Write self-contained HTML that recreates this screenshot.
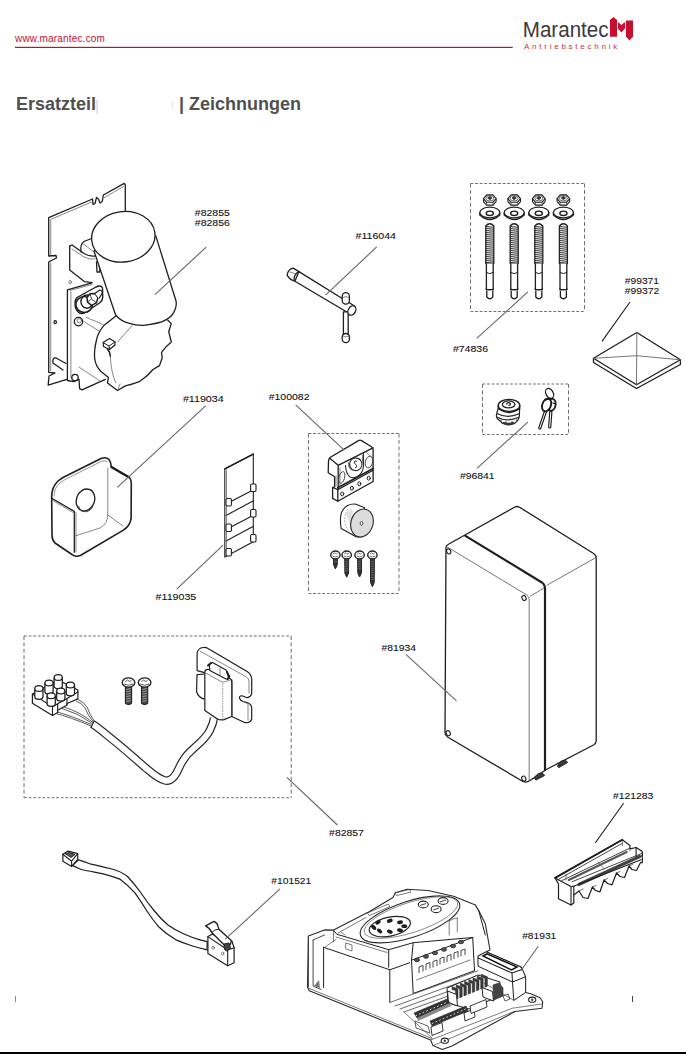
<!DOCTYPE html>
<html><head><meta charset="utf-8">
<style>
html,body{margin:0;padding:0;background:#fff;width:686px;height:1054px;overflow:hidden}
svg{position:absolute;left:0;top:0;display:block}
text{font-family:"Liberation Sans",sans-serif}
.lb{font-size:9.9px;fill:#101018;letter-spacing:0px;stroke:#101018;stroke-width:0.1px}
.o{fill:none;stroke:#1e1e1e;stroke-width:1.3;stroke-linejoin:round;stroke-linecap:round}
.t{fill:none;stroke:#555;stroke-width:0.7;stroke-linejoin:round;stroke-linecap:round}
.w{fill:#fff;stroke:#1e1e1e;stroke-width:1.3;stroke-linejoin:round}
.ld{fill:none;stroke:#666;stroke-width:1.1}
.lk{fill:none;stroke:#1a1a1a;stroke-width:1.1}
.dh{fill:none;stroke:#707070;stroke-width:1;stroke-dasharray:2.8 1.8}
.dv{fill:none;stroke:#707070;stroke-width:1;stroke-dasharray:4 2.4}
</style></head><body>
<svg width="686" height="1054" viewBox="0 0 686 1054">
<!-- HEADER -->
<text x="15" y="42.2" font-size="10" fill="#c4122f" letter-spacing="0.18">www.marantec.com</text>
<rect x="15" y="46.8" width="497.7" height="1.2" fill="#b8142e"/>
<text transform="translate(522.8 36.6) scale(0.935 1)" font-size="22" fill="#3a3a3a">Marantec</text>
<text x="524" y="49" font-size="8" fill="#c43040" letter-spacing="2.75">Antriebstechnik</text>
<g fill="#c5102e">
<path d="M610 20.1 L613.4 17.1 L617.1 20.1 L617.1 36.7 L610 36.7 Z"/>
<path d="M618 21.9 L621.3 25 L625 21.9 L625 28.6 L621.3 32.4 L618 28.6 Z"/>
<path d="M625.9 20.4 L633 20.4 L633 36.4 L629.5 40.5 L625.9 36.4 Z"/>
</g>
<text x="16" y="109.5" font-size="18" font-weight="bold" fill="#505050">Ersatzteil</text>
<rect x="96.6" y="100" width="1" height="13.6" fill="#d8c4b4"/>
<rect x="172.3" y="100.9" width="0.9" height="8" fill="#d4dcf4"/>
<text x="179" y="109.5" font-size="18" font-weight="bold" fill="#505050">| Zeichnungen</text>

<!-- DRAWINGS -->
<g id="drawings">
<g id="motor">
<!-- back plate -->
<path class="o" d="M125.3 211 L125.3 184.8 L124.2 183.4 L103.4 195 L102.2 201.5 L100 203 L98.5 199 L96.5 197.5 L95 203.5 L93 204.5 L92.5 199 L48.7 217.6 L48.7 256 L56 255.5 L56.5 258 L50.5 261 L48.7 262 L48.7 372.3 L55 373 L49 376 L48.2 385.1 L66.8 379.3"/>
<path class="t" d="M50.7 220 L50.7 255 M50.7 263 L50.7 371 M51 219.3 L92 201.8 M104 197.8 L123.5 186.5"/>
<!-- upper bracket -->
<path class="o" d="M69.7 246.1 L69.7 270 L84.3 281.6 L91.9 282.6"/>
<path class="o" d="M69.7 246.1 L72 245 L84 253.5 Q90 257 95.5 255.8"/>
<path class="t" d="M72 249 L84 257 Q90 260 95 259"/>
<path class="o" d="M81 252 Q80 244 84 241.5 L91.5 238.5"/>
<path class="t" d="M83.5 244 L94 252"/>
<path class="o" d="M96.5 262 L97 272 L100 272 L99 262"/>
<!-- lower plate -->
<path class="o" d="M67.4 289.8 L91.9 282.8 M67.4 289.8 L67.4 380.5 L73.8 381.6 L79 379.3 L79.6 388.6 L82 389.8 L105.3 379.3"/>
<path class="t" d="M70.9 292 L70.9 378 M70 290.5 L92 284.5"/>
<ellipse class="t" cx="70.1" cy="282.2" rx="1.2" ry="1.8"/>
<ellipse class="o" cx="55.2" cy="322.2" rx="1.2" ry="1.5"/>
<!-- nut plate -->
<path class="w" d="M76 309 Q73.5 302 77 297.5 L96 287 Q101 284.5 102.5 288 L102.7 297.5 Q102.5 301 99.5 303 L85 312.5 Q79 315.5 76 309 Z" style="stroke-width:1.4"/>
<ellipse cx="84.2" cy="304.5" rx="8.3" ry="8" fill="#fff" stroke="#1e1e1e" stroke-width="1.5"/>
<ellipse cx="86.9" cy="301.6" rx="6" ry="6.6" fill="none" stroke="#1e1e1e" stroke-width="1.4"/>
<path d="M87 297.5 L90 293.8 L95 293.5 L98 297.5 L96.5 302.8 L91.5 305.3 L87.5 302 Z" fill="#fff" stroke="#1e1e1e" stroke-width="1.5"/>
<path d="M90 293.8 L91.5 299 L96.5 302.8 M91.5 299 L87.5 302" fill="none" stroke="#333" stroke-width="0.9"/>
<path d="M95 293.5 L99.5 290 Q102 290 102.3 293 L99 298.5" fill="#fff" stroke="#1e1e1e" stroke-width="1.2"/>
<!-- small bolt -->
<circle class="o" cx="78.5" cy="321.6" r="4.2"/>
<circle class="t" cx="79.3" cy="320.8" r="2.2"/>
<path class="t" d="M86.6 317.5 L103 324.5 M84.5 322 L99 331"/>
<!-- pin near bottom -->
<path class="o" d="M66 363.5 L56 358 Q52 357.5 53 363 L63 370"/>
<circle class="o" cx="75" cy="377.5" r="3.2"/>
<path class="t" d="M79 367 L100 381"/>
<!-- gearbox -->
<path class="w" d="M116.2 315.7 L104.4 324.9 Q98 332 96.5 340 Q94 350 94.6 358 Q95.5 366 101 371.5 L108.4 377.4 L107.5 383 L117.5 390.5 L125.4 385.9 Q133 384 139.9 381.3 Q148 376 153 369.5 L159.5 365.6 L162.2 357.7 L161.5 352.5 Q166 346 171.3 342 L168.7 331.5 L171.3 323.6 L167.4 319.7"/>
<path class="t" d="M132 325.6 L117.6 342 M110.3 356.4 Q111 372 115.6 382.7 M120 384 L117.5 390.5"/>
<path class="w" d="M103.1 342.5 L109.5 338.5 L115 342 L115 345 L109.5 349.5 L103.5 346.5 Z" style="stroke-width:1.2"/>
<path class="o" d="M103.1 342.5 L109 346 L115 342 M109 346 L109.5 349.5" style="stroke-width:1"/>
<path class="o" d="M107.5 349 Q110 352 110.3 356" style="stroke-width:1.6"/>
<!-- cylinder -->
<path class="w" d="M94 251 L115.6 315 Q122 322 128.7 323.1 Q136 325.5 143.3 325.3 Q155 324 162.3 321.6 Q170 318 172.5 314.3 Q177 308 176.1 301.2 L155.7 235.6 Z"/>
<ellipse class="w" cx="123.3" cy="236.8" rx="31.8" ry="25.2" transform="rotate(-8 123.3 236.8)"/>
</g>

<g id="wrench">
<path class="w" d="M298.9 271.6 L342.2 298.5 L349.4 302.8 L354.8 306.2 L348.5 313 L294.9 281.2 Z"/>
<path class="o" d="M298.9 271.6 L293.2 268.1 Q288 269 287.1 275.1 Q290 280 294.9 281.2"/>
<path class="o" d="M298.9 271.6 Q294 274 294.1 279.5"/>
<path class="t" d="M290 272 L296 274"/>
<rect class="w" x="343.4" y="311.9" width="4.8" height="23" />
<rect class="w" x="342.2" y="292.6" width="7.2" height="11.6" rx="3.6" ry="3.6"/>
<path class="t" d="M342.6 297.5 Q345.8 295.5 349 297.5"/>
<ellipse class="w" cx="351.9" cy="310.5" rx="3.6" ry="5" transform="rotate(30 351.9 310.5)"/>
<rect class="w" x="342.2" y="333.5" width="7.2" height="9.1" rx="3.6" ry="3.6"/>
<path class="t" d="M342.6 336 Q345.8 338 349 336"/>
</g>

<g id="bolts">
<path class="w" d="M483.5 198.6 L483.5 201.6 L486.6 205.1 L493.0 205.1 L496.1 201.6 L496.1 198.6 Z" style="stroke-width:1.1"/>
<path class="t" d="M486.6 202.4 L486.6 205.1 M493.0 202.4 L493.0 205.1" style="stroke:#444"/>
<path class="w" d="M496.1 198.6 L492.9 202.3 L486.7 202.3 L483.5 198.6 L486.7 194.9 L492.9 194.9 Z" style="stroke-width:1.1"/>
<ellipse cx="489.8" cy="198.29999999999998" rx="4" ry="2.7" fill="none" stroke="#444" stroke-width="0.8"/>
<path d="M487.6 198.0 L489.8 196.2 L492.0 198.0 L489.8 199.79999999999998 Z" fill="#333" stroke="#222" stroke-width="0.7"/>
<path class="w" d="M479.8 212.5 L479.8 215 Q489.8 224 499.8 215 L499.8 212.5"/>
<ellipse class="w" cx="489.8" cy="212.5" rx="10" ry="5.3"/>
<ellipse class="o" cx="489.8" cy="213.3" rx="3.6" ry="2.2" style="stroke-width:1.4"/>
<path class="w" d="M485.8 263.5 L485.8 226 Q489.8 221.5 493.8 226 L493.8 263.5 Z"/>
<path d="M485.8 226.5 L493.8 227.3 M485.8 228.5 L493.8 229.3 M485.8 230.5 L493.8 231.3 M485.8 232.5 L493.8 233.3 M485.8 234.5 L493.8 235.3 M485.8 236.5 L493.8 237.3 M485.8 238.5 L493.8 239.3 M485.8 240.5 L493.8 241.3 M485.8 242.5 L493.8 243.3 M485.8 244.5 L493.8 245.3 M485.8 246.5 L493.8 247.3 M485.8 248.5 L493.8 249.3 M485.8 250.5 L493.8 251.3 M485.8 252.5 L493.8 253.3 M485.8 254.5 L493.8 255.3 M485.8 256.5 L493.8 257.3 M485.8 258.5 L493.8 259.3 M485.8 260.5 L493.8 261.3 M485.8 262.5 L493.8 263.3" stroke="#2a2a2a" stroke-width="1" fill="none"/>
<path class="w" d="M486.40000000000003 263.5 L486.40000000000003 289.7 L493.2 289.7 L493.2 263.5"/>
<path class="o" d="M486.40000000000003 272.5 Q489.8 275 493.2 272.5" style="stroke-width:1"/>
<path class="o" d="M486.1 289 Q489.8 291.5 493.5 289"/>
<path class="w" d="M486.8 290.5 L486.8 297 Q489.8 300.5 492.8 297 L492.8 290.5"/>
<path class="w" d="M507.90000000000003 198.6 L507.90000000000003 201.6 L511.00000000000006 205.1 L517.4000000000001 205.1 L520.5 201.6 L520.5 198.6 Z" style="stroke-width:1.1"/>
<path class="t" d="M511.00000000000006 202.4 L511.00000000000006 205.1 M517.4000000000001 202.4 L517.4000000000001 205.1" style="stroke:#444"/>
<path class="w" d="M520.5 198.6 L517.4 202.3 L511.1 202.3 L507.9 198.6 L511.1 194.9 L517.4 194.9 Z" style="stroke-width:1.1"/>
<ellipse cx="514.2" cy="198.29999999999998" rx="4" ry="2.7" fill="none" stroke="#444" stroke-width="0.8"/>
<path d="M512.0 198.0 L514.2 196.2 L516.4000000000001 198.0 L514.2 199.79999999999998 Z" fill="#333" stroke="#222" stroke-width="0.7"/>
<path class="w" d="M504.20000000000005 212.5 L504.20000000000005 215 Q514.2 224 524.2 215 L524.2 212.5"/>
<ellipse class="w" cx="514.2" cy="212.5" rx="10" ry="5.3"/>
<ellipse class="o" cx="514.2" cy="213.3" rx="3.6" ry="2.2" style="stroke-width:1.4"/>
<path class="w" d="M510.20000000000005 263.5 L510.20000000000005 226 Q514.2 221.5 518.2 226 L518.2 263.5 Z"/>
<path d="M510.20000000000005 226.5 L518.2 227.3 M510.20000000000005 228.5 L518.2 229.3 M510.20000000000005 230.5 L518.2 231.3 M510.20000000000005 232.5 L518.2 233.3 M510.20000000000005 234.5 L518.2 235.3 M510.20000000000005 236.5 L518.2 237.3 M510.20000000000005 238.5 L518.2 239.3 M510.20000000000005 240.5 L518.2 241.3 M510.20000000000005 242.5 L518.2 243.3 M510.20000000000005 244.5 L518.2 245.3 M510.20000000000005 246.5 L518.2 247.3 M510.20000000000005 248.5 L518.2 249.3 M510.20000000000005 250.5 L518.2 251.3 M510.20000000000005 252.5 L518.2 253.3 M510.20000000000005 254.5 L518.2 255.3 M510.20000000000005 256.5 L518.2 257.3 M510.20000000000005 258.5 L518.2 259.3 M510.20000000000005 260.5 L518.2 261.3 M510.20000000000005 262.5 L518.2 263.3" stroke="#2a2a2a" stroke-width="1" fill="none"/>
<path class="w" d="M510.80000000000007 263.5 L510.80000000000007 289.7 L517.6 289.7 L517.6 263.5"/>
<path class="o" d="M510.80000000000007 272.5 Q514.2 275 517.6 272.5" style="stroke-width:1"/>
<path class="o" d="M510.50000000000006 289 Q514.2 291.5 517.9000000000001 289"/>
<path class="w" d="M511.20000000000005 290.5 L511.20000000000005 297 Q514.2 300.5 517.2 297 L517.2 290.5"/>
<path class="w" d="M532.5 198.6 L532.5 201.6 L535.5999999999999 205.1 L542.0 205.1 L545.0999999999999 201.6 L545.0999999999999 198.6 Z" style="stroke-width:1.1"/>
<path class="t" d="M535.5999999999999 202.4 L535.5999999999999 205.1 M542.0 202.4 L542.0 205.1" style="stroke:#444"/>
<path class="w" d="M545.1 198.6 L541.9 202.3 L535.6 202.3 L532.5 198.6 L535.6 194.9 L541.9 194.9 Z" style="stroke-width:1.1"/>
<ellipse cx="538.8" cy="198.29999999999998" rx="4" ry="2.7" fill="none" stroke="#444" stroke-width="0.8"/>
<path d="M536.5999999999999 198.0 L538.8 196.2 L541.0 198.0 L538.8 199.79999999999998 Z" fill="#333" stroke="#222" stroke-width="0.7"/>
<path class="w" d="M528.8 212.5 L528.8 215 Q538.8 224 548.8 215 L548.8 212.5"/>
<ellipse class="w" cx="538.8" cy="212.5" rx="10" ry="5.3"/>
<ellipse class="o" cx="538.8" cy="213.3" rx="3.6" ry="2.2" style="stroke-width:1.4"/>
<path class="w" d="M534.8 263.5 L534.8 226 Q538.8 221.5 542.8 226 L542.8 263.5 Z"/>
<path d="M534.8 226.5 L542.8 227.3 M534.8 228.5 L542.8 229.3 M534.8 230.5 L542.8 231.3 M534.8 232.5 L542.8 233.3 M534.8 234.5 L542.8 235.3 M534.8 236.5 L542.8 237.3 M534.8 238.5 L542.8 239.3 M534.8 240.5 L542.8 241.3 M534.8 242.5 L542.8 243.3 M534.8 244.5 L542.8 245.3 M534.8 246.5 L542.8 247.3 M534.8 248.5 L542.8 249.3 M534.8 250.5 L542.8 251.3 M534.8 252.5 L542.8 253.3 M534.8 254.5 L542.8 255.3 M534.8 256.5 L542.8 257.3 M534.8 258.5 L542.8 259.3 M534.8 260.5 L542.8 261.3 M534.8 262.5 L542.8 263.3" stroke="#2a2a2a" stroke-width="1" fill="none"/>
<path class="w" d="M535.4 263.5 L535.4 289.7 L542.1999999999999 289.7 L542.1999999999999 263.5"/>
<path class="o" d="M535.4 272.5 Q538.8 275 542.1999999999999 272.5" style="stroke-width:1"/>
<path class="o" d="M535.0999999999999 289 Q538.8 291.5 542.5 289"/>
<path class="w" d="M535.8 290.5 L535.8 297 Q538.8 300.5 541.8 297 L541.8 290.5"/>
<path class="w" d="M557.1 198.6 L557.1 201.6 L560.1999999999999 205.1 L566.6 205.1 L569.6999999999999 201.6 L569.6999999999999 198.6 Z" style="stroke-width:1.1"/>
<path class="t" d="M560.1999999999999 202.4 L560.1999999999999 205.1 M566.6 202.4 L566.6 205.1" style="stroke:#444"/>
<path class="w" d="M569.7 198.6 L566.5 202.3 L560.2 202.3 L557.1 198.6 L560.2 194.9 L566.5 194.9 Z" style="stroke-width:1.1"/>
<ellipse cx="563.4" cy="198.29999999999998" rx="4" ry="2.7" fill="none" stroke="#444" stroke-width="0.8"/>
<path d="M561.1999999999999 198.0 L563.4 196.2 L565.6 198.0 L563.4 199.79999999999998 Z" fill="#333" stroke="#222" stroke-width="0.7"/>
<path class="w" d="M553.4 212.5 L553.4 215 Q563.4 224 573.4 215 L573.4 212.5"/>
<ellipse class="w" cx="563.4" cy="212.5" rx="10" ry="5.3"/>
<ellipse class="o" cx="563.4" cy="213.3" rx="3.6" ry="2.2" style="stroke-width:1.4"/>
<path class="w" d="M559.4 263.5 L559.4 226 Q563.4 221.5 567.4 226 L567.4 263.5 Z"/>
<path d="M559.4 226.5 L567.4 227.3 M559.4 228.5 L567.4 229.3 M559.4 230.5 L567.4 231.3 M559.4 232.5 L567.4 233.3 M559.4 234.5 L567.4 235.3 M559.4 236.5 L567.4 237.3 M559.4 238.5 L567.4 239.3 M559.4 240.5 L567.4 241.3 M559.4 242.5 L567.4 243.3 M559.4 244.5 L567.4 245.3 M559.4 246.5 L567.4 247.3 M559.4 248.5 L567.4 249.3 M559.4 250.5 L567.4 251.3 M559.4 252.5 L567.4 253.3 M559.4 254.5 L567.4 255.3 M559.4 256.5 L567.4 257.3 M559.4 258.5 L567.4 259.3 M559.4 260.5 L567.4 261.3 M559.4 262.5 L567.4 263.3" stroke="#2a2a2a" stroke-width="1" fill="none"/>
<path class="w" d="M560.0 263.5 L560.0 289.7 L566.8 289.7 L566.8 263.5"/>
<path class="o" d="M560.0 272.5 Q563.4 275 566.8 272.5" style="stroke-width:1"/>
<path class="o" d="M559.6999999999999 289 Q563.4 291.5 567.1 289"/>
<path class="w" d="M560.4 290.5 L560.4 297 Q563.4 300.5 566.4 297 L566.4 290.5"/>
</g>
<g id="pyramid">
<path class="w" d="M593.5 358.3 L593.5 362.5 L636.5 388.5 L680.4 364.5 L680.4 359.8"/>
<path class="w" d="M593.5 358.3 L636.8 332.5 L680.4 359.8 L636.5 384.8 Z"/>
<path class="t" d="M636.8 332.5 L636.5 384.8 M593.5 358.3 L636.6 355.7 L680.4 359.8" style="stroke:#666;stroke-width:0.9"/>
</g>

<g id="lock">
<path class="w" d="M498.5 408 L497.2 411.5 L496.3 416 Q496.5 418.5 499.5 420.5 L502.5 423.3 Q508.5 426.3 514.5 423.5 L517.6 420.6 Q519.6 418 519.4 414.5 L519.6 408 Z" style="stroke-width:1.2"/>
<path d="M497 413.5 Q507 419 519.2 413.8 M496.6 417 Q507 422.5 519 417.3" fill="none" stroke="#2a2a2a" stroke-width="1.1"/>
<path d="M501 419.5 L501 422 M506 421 L506 424.5 M512 421 L512 424.5 M516.5 419.5 L516.5 422" stroke="#444" stroke-width="0.9"/>
<path d="M502.5 423.3 Q508.5 426.3 514.5 423.5 L513.5 421.8 Q508.5 423.8 503.5 421.8 Z" fill="#333"/>
<path class="w" d="M498.2 405.6 L498.3 408.6 Q509 416.5 519.7 408.6 L519.8 405.6" style="stroke-width:1.3"/>
<ellipse class="w" cx="509" cy="405.4" rx="10.8" ry="6" style="stroke-width:1.3"/>
<ellipse class="o" cx="508.6" cy="404.4" rx="6.3" ry="3.5" style="stroke-width:1.2"/>
<path d="M506.5 404.5 Q507 402.3 509.3 402.6 Q511 403.5 510 405 L508.4 405.5" fill="none" stroke="#222" stroke-width="1.3"/>
<g style="stroke:#1a1a1a;fill:none;stroke-linecap:round">
<ellipse cx="549.6" cy="393.4" rx="3.6" ry="5.3" transform="rotate(-28 549.6 393.4)" stroke-width="1.3"/>
<path d="M545.3 412 L539.8 428" stroke-width="3.3"/>
<path d="M545.3 412 L539.8 428" stroke-width="1" stroke="#fff"/>
<path d="M550.8 412 L549.7 426.8" stroke-width="3.3"/>
<path d="M550.8 412 L549.7 426.8" stroke-width="1" stroke="#fff"/>
<ellipse cx="551.6" cy="404.8" rx="4" ry="6" transform="rotate(12 551.6 404.8)" stroke-width="1.8" fill="#fff"/>
<ellipse cx="546.6" cy="405" rx="4.3" ry="6.6" transform="rotate(20 546.6 405)" stroke-width="1.9" fill="#fff"/>
<path d="M545 400 L550 398.5" stroke-width="1.6"/>
<path d="M553 403 L555.5 404" stroke-width="1.3"/>
</g>
</g>

<g id="cover">
<path class="w" d="M51.7 498.3 Q51 488 58 481 Q62 477.5 68 475 L101 458.5 Q106 456.5 109 459.5 Q111 462 111.4 467 L128.9 477.2 Q131.3 479 131.3 484 L131.1 518.7 Q130 526 123 530.4 L80.8 555.2 Q75.5 557.5 72 554.5 L55 543 Q52 540 52 535 Z" style="stroke-width:1.6"/>
<path class="o" d="M51.7 498.3 L74.3 511.4 L74.3 552.2"/>
<path class="t" d="M54 496 Q54 488 60 483 Q64 480 69 477.5 L101.5 461.3 Q105 459.8 107.5 461.5" style="stroke:#666"/>
<path class="t" d="M53 500.5 L73 512.5 M76 512.5 L76 552"/>
<path class="t" d="M107.8 468 L107.8 515 Q107.5 524 100 528 L74.3 536.2 M107.8 515 L123 526"/>
<path class="o" d="M111.4 467 L128.9 477.2" style="stroke-width:2.2"/>
<ellipse class="o" cx="85.5" cy="500" rx="9" ry="11.2" transform="rotate(20 85.5 500)"/>
<path d="M78.5 506 Q80 511.5 86 511.8 Q91 511 93 506" fill="none" stroke="#444" stroke-width="0.9"/>
</g>
<g id="strip">
<path class="w" d="M224.8 468.9 L253.3 454.1 L253.3 541.8 L224.8 557.1 Z" style="stroke-width:1.1"/>
<path class="o" d="M224.8 468.9 L253.3 454.1" style="stroke-width:1.6"/>
<path class="o" d="M229 502.5 L253 490 M226 515.5 L253 501 M229 528 L253 515.5 M226 541 L253 526.5" style="stroke-width:1.1"/>
<path class="t" d="M226.5 470 L226.5 556"/>
<g class="w" style="stroke-width:1.1">
<rect x="250.6" y="484" width="5.4" height="7.5" rx="1.2"/>
<rect x="250.6" y="509.5" width="5.4" height="7.5" rx="1.2"/>
<rect x="250.6" y="534.5" width="5.4" height="7.5" rx="1.2"/>
<rect x="226" y="498.5" width="5.4" height="7.5" rx="1.2"/>
<rect x="226" y="524" width="5.4" height="7.5" rx="1.2"/>
<rect x="226" y="548.5" width="5.4" height="7.5" rx="1.2"/>
</g>
</g>

<g id="holder">
<!-- top face -->
<path class="w" d="M330 457.5 Q328.5 459 328.5 461.5 L328.2 472.7 L334.6 476.7 L334.6 487.1 L332.6 487.5 L332.6 498.4 L337.8 501.2 L373.1 481.5 L373.1 449.5 Q373 447.5 371.5 446.8 L361.5 440.6 Q360 439.8 358.5 440.6 Z"/>
<path class="o" d="M330 458.5 L338.2 465.3 L373 447.8 M338.2 465.3 L338.2 489.7 M332.6 487.5 L337.8 489.7 L373.1 470.3 M337.8 489.7 L337.8 501.2"/>
<path class="o" d="M337.8 487.8 L373.1 468.5" style="stroke-width:1.6"/>
<path class="t" d="M340 468 L340 487 M336 476 L336 486"/>
<!-- front face features -->
<path d="M345.4 465 Q346 474 350 477 Q355 479 359 475.5 Q363 472 363.5 466 L363.5 452.6" fill="none" stroke="#2a2a2a" stroke-width="1.1"/>
<path d="M348.3 462.3 Q348.5 468 351 469.8 Q355.5 471.5 359.5 468.5 Q362.5 465 362.7 458 L362.7 455" fill="none" stroke="#444" stroke-width="0.8"/>
<ellipse cx="355.8" cy="464.3" rx="6.2" ry="6.3" transform="rotate(20 355.8 464.3)" fill="#fff" stroke="#2a2a2a" stroke-width="1.1"/>
<path d="M357 461.5 Q355 460 354 462 Q355 464 356.5 465.5 Q357.5 467.5 355 467.8" fill="none" stroke="#333" stroke-width="1"/>
<ellipse cx="369" cy="462" rx="3.6" ry="6" transform="rotate(15 369 462)" fill="none" stroke="#444" stroke-width="0.9"/>
<ellipse cx="341.8" cy="477.5" rx="2.8" ry="6" transform="rotate(15 341.8 477.5)" fill="none" stroke="#444" stroke-width="0.9"/>
<path class="t" d="M366 452 Q370 456 372 458"/>
<g class="o" style="stroke-width:1">
<ellipse cx="342.2" cy="493.9" rx="1.5" ry="2"/>
<ellipse cx="351.9" cy="488.2" rx="1.5" ry="2"/>
<ellipse cx="359.3" cy="483.8" rx="1.5" ry="2"/>
<ellipse cx="368.7" cy="478.2" rx="1.5" ry="2"/>
</g>
<!-- roller -->
<path class="w" d="M340.5 520.5 Q340 510 347.5 505.5 Q352 503.5 356 504.2 L364.6 507.7 L362 537 L356.5 536.9 L341.2 528.4 Q340.3 525 340.5 520.5 Z" style="stroke-width:1.1"/>
<path d="M348 509 Q344 515 345 523 Q346 528 349 531" fill="none" stroke="#888" stroke-width="0.8" stroke-dasharray="1.5 1.5"/>
<path d="M346 513 L352 532 L357 537 L352 508 Z" fill="#e2e2e2" stroke="none"/>
<ellipse cx="362" cy="523" rx="11" ry="14.2" transform="rotate(18 362 523)" fill="#dcdcdc" stroke="#2a2a2a" stroke-width="1.1"/>
<ellipse cx="361.5" cy="523.4" rx="1.3" ry="1.9" fill="#fff" stroke="#333" stroke-width="0.9"/>
<!-- screws -->
<path d="M333.4 558 L333.59999999999997 564.9 L335.4 568.9 L337.2 564.9 L337.4 558 Z" fill="#333" stroke="#222" stroke-width="1"/>
<path d="M333.79999999999995 560.0 l3.2 -0.8 M333.79999999999995 562.2 l3.2 -0.8" stroke="#888" stroke-width="0.6"/>
<ellipse cx="335.4" cy="555" rx="4.7" ry="4" fill="#fff" stroke="#222" stroke-width="1.4"/>
<path d="M332.4 556 Q335.4 558 338.4 556 M332.9 554 l1.6 -1.2 l1.6 1.2 l1.6 -1" fill="none" stroke="#555" stroke-width="0.8"/>
<path d="M344.7 558 L344.9 573.2 L346.7 577.2 L348.5 573.2 L348.7 558 Z" fill="#333" stroke="#222" stroke-width="1"/>
<path d="M345.09999999999997 560.0 l3.2 -0.8 M345.09999999999997 562.2 l3.2 -0.8 M345.09999999999997 564.4 l3.2 -0.8 M345.09999999999997 566.6 l3.2 -0.8 M345.09999999999997 568.8 l3.2 -0.8 M345.09999999999997 571.0 l3.2 -0.8" stroke="#888" stroke-width="0.6"/>
<ellipse cx="346.7" cy="555" rx="4.7" ry="4" fill="#fff" stroke="#222" stroke-width="1.4"/>
<path d="M343.7 556 Q346.7 558 349.7 556 M344.2 554 l1.6 -1.2 l1.6 1.2 l1.6 -1" fill="none" stroke="#555" stroke-width="0.8"/>
<path d="M357.6 558 L357.8 573 L359.6 577 L361.40000000000003 573 L361.6 558 Z" fill="#333" stroke="#222" stroke-width="1"/>
<path d="M358.0 560.0 l3.2 -0.8 M358.0 562.2 l3.2 -0.8 M358.0 564.4 l3.2 -0.8 M358.0 566.6 l3.2 -0.8 M358.0 568.8 l3.2 -0.8" stroke="#888" stroke-width="0.6"/>
<ellipse cx="359.6" cy="555" rx="4.7" ry="4" fill="#fff" stroke="#222" stroke-width="1.4"/>
<path d="M356.6 556 Q359.6 558 362.6 556 M357.1 554 l1.6 -1.2 l1.6 1.2 l1.6 -1" fill="none" stroke="#555" stroke-width="0.8"/>
<path d="M370.4 558 L370.59999999999997 582.7 L372.4 586.7 L374.2 582.7 L374.4 558 Z" fill="#333" stroke="#222" stroke-width="1"/>
<path d="M370.79999999999995 560.0 l3.2 -0.8 M370.79999999999995 562.2 l3.2 -0.8 M370.79999999999995 564.4 l3.2 -0.8 M370.79999999999995 566.6 l3.2 -0.8 M370.79999999999995 568.8 l3.2 -0.8 M370.79999999999995 571.0 l3.2 -0.8 M370.79999999999995 573.2 l3.2 -0.8 M370.79999999999995 575.4 l3.2 -0.8 M370.79999999999995 577.6 l3.2 -0.8 M370.79999999999995 579.8 l3.2 -0.8" stroke="#888" stroke-width="0.6"/>
<ellipse cx="372.4" cy="555" rx="4.7" ry="4" fill="#fff" stroke="#222" stroke-width="1.4"/>
<path d="M369.4 556 Q372.4 558 375.4 556 M369.9 554 l1.6 -1.2 l1.6 1.2 l1.6 -1" fill="none" stroke="#555" stroke-width="0.8"/>
</g>

<g id="box">
<path class="w" d="M446 547.5 Q446 545.5 448 544.5 L514.5 507.2 Q517 505.8 519.5 507.2 L594 553.8 Q596.2 555.5 596.2 558.5 L596.2 741 Q596 743.5 593.5 745 L553 766 L545.5 770 L530 780.5 Q526.5 783 523 781.5 L447.5 737 Q445 735.5 445 732.5 Z" style="stroke-width:1.3"/>
<path class="t" d="M447 546.8 L526.5 594.8 Q529 596.5 529.2 599 L529.2 781 M530.5 596 L543.5 588.3 M547 585.2 L594.8 558.2" style="stroke:#666;stroke-width:0.9"/>
<path class="o" d="M465.4 535.9 L541.5 582.2 Q545 584.5 545 589 L545 770" style="stroke-width:2.2"/>
<g class="o" style="stroke-width:1.1">
<ellipse cx="448.7" cy="551.4" rx="2" ry="2.6" transform="rotate(-25 448.7 551.4)"/>
<ellipse cx="524" cy="598" rx="2" ry="2.6" transform="rotate(-25 524 598)"/>
<ellipse cx="448.2" cy="733.2" rx="2" ry="2.6" transform="rotate(-25 448.2 733.2)"/>
<ellipse cx="523.8" cy="778.6" rx="2" ry="2.6" transform="rotate(-25 523.8 778.6)"/>
</g>
<path d="M534.5 778.5 Q536 773.5 541 773 Q544 773.5 544.5 775.5 L536 780 Z M557.5 766.5 Q559 761 564 760.3 Q567 760.5 567.5 762.5 L559 767.5 Z" fill="#3a3a3a" stroke="#222" stroke-width="1"/>
</g>

<g id="wire">
<!-- cable (double line) -->
<path d="M92.5 724 C100 729 105 733.5 110 737.6 C120 745.5 135 758.5 145 767.3 C152 773 158 779 165 780.5 C172 782 176 775 179 768 C183 759 187 754 193 749 C200 743 207 737 210 730 C212.5 725 213.5 722 214 718" fill="none" stroke="#2a2a2a" stroke-width="8.4" stroke-linecap="butt"/>
<path d="M92.5 724 C100 729 105 733.5 110 737.6 C120 745.5 135 758.5 145 767.3 C152 773 158 779 165 780.5 C172 782 176 775 179 768 C183 759 187 754 193 749 C200 743 207 737 210 730 C212.5 725 213.5 722 214 718" fill="none" stroke="#fff" stroke-width="6" stroke-linecap="butt"/>
<!-- wires -->
<path d="M54 713 Q70 717 91 726 M56 711.5 Q72 716 91.5 724.5 M62 708.5 Q78 713 92.5 723.5 M64 707 Q80 712 93 722.5 M76 701 Q82 703 85 708 Q88 716 93.5 722 M78 699.5 Q84 702 87 707 Q90 715 94.5 721.5" fill="none" stroke="#333" stroke-width="0.8"/>
<path class="o" d="M94.2 721 L91.1 727.2" style="stroke-width:1.1"/>
<!-- terminal block -->
<path class="w" d="M32.4 694.1 L32.4 703.2 L52.5 715.5 L57.7 712.5 L57.7 710.2 L67 705 L67 703.5 L77.9 698.9 L77.9 690 L58 680 Z" style="stroke-width:1.2"/>
<path class="o" d="M32.4 694.1 L52.5 706.7 L52.5 715.5 M52.5 706.7 L57.7 703.7 L57.7 710.2 M57.7 703.7 L67 698.5 L67 705 M67 698.5 L77.9 692" style="stroke-width:1.1"/>
<g fill="#fff" stroke="#1e1e1e" stroke-width="1.25">
<path d="M54.1 677.4 L54.1 686.2 A4.1 2.6 0 0 0 62.300000000000004 686.2 L62.300000000000004 677.4"/><ellipse cx="58.2" cy="677.4" rx="4.1" ry="2.9"/>
<path d="M44.9 683.1 L44.9 691.5 A4.1 2.6 0 0 0 53.1 691.5 L53.1 683.1"/><ellipse cx="49" cy="683.1" rx="4.1" ry="2.9"/>
<path d="M66.30000000000001 684.9 L66.30000000000001 693.2 A4.1 2.6 0 0 0 74.5 693.2 L74.5 684.9"/><ellipse cx="70.4" cy="684.9" rx="4.1" ry="2.9"/>
<path d="M34.8 688.4 L34.8 696.7 A4.1 2.6 0 0 0 43.0 696.7 L43.0 688.4"/><ellipse cx="38.9" cy="688.4" rx="4.1" ry="2.9"/>
<path d="M56.699999999999996 691 L56.699999999999996 698.5 A4.1 2.6 0 0 0 64.89999999999999 698.5 L64.89999999999999 691"/><ellipse cx="60.8" cy="691" rx="4.1" ry="2.9"/>
<path d="M47.1 695.8 L47.1 703.7 A4.1 2.6 0 0 0 55.300000000000004 703.7 L55.300000000000004 695.8"/><ellipse cx="51.2" cy="695.8" rx="4.1" ry="2.9"/>
</g>
<!-- screws -->
<path d="M125.4 686 L125.4 703 Q128.5 706 131.6 703 L131.6 686 Z" fill="#4a4a4a" stroke="#222" stroke-width="1.1"/>
<path d="M126.2 689.5 l4.6 -1 M126.2 691.9 l4.6 -1 M126.2 694.3 l4.6 -1 M126.2 696.7 l4.6 -1 M126.2 699.1 l4.6 -1 M126.2 701.5 l4.6 -1" stroke="#aaa" stroke-width="0.8"/>
<ellipse cx="128.5" cy="682.5" rx="6.3" ry="4.6" fill="#fff" stroke="#222" stroke-width="1.4"/>
<path d="M124.0 684 Q128.5 686.5 133.0 684 M125.5 681.5 l2 -1.5 l2 1.5 l2 -1" fill="none" stroke="#444" stroke-width="0.9"/>
<path d="M141.5 686 L141.5 703 Q144.6 706 147.7 703 L147.7 686 Z" fill="#4a4a4a" stroke="#222" stroke-width="1.1"/>
<path d="M142.29999999999998 689.5 l4.6 -1 M142.29999999999998 691.9 l4.6 -1 M142.29999999999998 694.3 l4.6 -1 M142.29999999999998 696.7 l4.6 -1 M142.29999999999998 699.1 l4.6 -1 M142.29999999999998 701.5 l4.6 -1" stroke="#aaa" stroke-width="0.8"/>
<ellipse cx="144.6" cy="682.5" rx="6.3" ry="4.6" fill="#fff" stroke="#222" stroke-width="1.4"/>
<path d="M140.1 684 Q144.6 686.5 149.1 684 M141.6 681.5 l2 -1.5 l2 1.5 l2 -1" fill="none" stroke="#444" stroke-width="0.9"/>
<!-- connector back plate -->
<path class="w" d="M197.1 670.6 L197.1 653.5 Q197.5 648 203.5 647.5 Q206 647.3 208 648.5 L247.1 671.6 Q251.7 674.5 251.7 679.5 L251.7 693.1 Q251 697 247.1 697.7 L242 695.8 Q239 695.5 239.6 698.5 Q240.5 700.5 243 701.5 L247 702.5 Q251.5 704 251.7 708 L251.7 718.6 Q251 723 245.1 722.7 L231.8 716.5 L231.8 680 Z" style="stroke-width:1.2"/>
<path class="t" d="M200.2 651.2 L246.5 677 Q249 678.5 249 682 L249 693 M243 701.5 L248 704 L248 720"/>
<path class="w" d="M204.8 674 L197 674.7 L196.6 692 Q198.5 697.5 204.3 699.2" style="stroke-width:1.2"/>
<!-- connector body -->
<path class="w" d="M204.8 672 Q205 669 209 669.5 L229.5 678 Q231.8 679.5 231.8 682 L231.8 716.5 L224 719.6 Q220.6 720.5 217.5 719 L204.8 710.4 Z" style="stroke-width:1.2"/>
<path d="M222.7 683 L222.7 719" stroke="#777" stroke-width="0.8" stroke-dasharray="1.5 1" fill="none"/>
<path class="t" d="M205.5 673 L221 681.5 Q223 682.5 226 681.5 L231 679.5"/>
<!-- plug -->
<path class="w" d="M209.4 664.5 L212.5 662.4 L226 670 L229.8 676.5 L228 678.8 L226 679 L209.8 670.5 Z" style="stroke-width:1.1"/>
<path class="o" d="M208 665.5 L211 663 M227 672 L229 677.5 L227.5 679" style="stroke-width:2"/>
<path class="t" d="M220 668 L220 675"/>
</g>

<g id="cable">
<path class="w" d="M78.6 859.9 Q85 862 90 863.8 Q102 866.5 110 868.5 Q121 871 128 877 Q135 884.5 141 893 Q147 902 154 910.5 Q161 919.2 168 925 Q175.5 930.4 184 934 Q192 937.6 200 939.8 L207.1 941.6 L207.1 949.8 Q199 948 191.8 945.7 Q183 943 175.5 939.6 Q166 934 159.2 927.3 Q152 919 146.9 911 Q140 900 134.7 892.7 Q128 885 120.4 879.4 Q110 875 94.4 872.1 Q86 870.5 81.2 869.5 L72.5 865.6 Z" style="stroke-width:1.2"/>
<!-- RJ plug -->
<path class="w" d="M62.9 854.2 L68.1 851.1 L77.7 853.7 L77.7 859.4 L71.6 866.4 L62.9 861.2 Z" style="stroke-width:1.2"/>
<path class="o" d="M62.9 854.2 L71.6 861.2 L77.7 853.7 M71.6 861.2 L71.6 866.4" style="stroke-width:1.1"/>
<path d="M65 853.5 L70 852.5 L75 854.5 L71 857.5 Z" fill="#555" stroke="#222" stroke-width="0.9"/>
<!-- switch -->
<path class="w" d="M207.9 936.6 L207.9 953.5 L227.7 965.7 L234.1 962.8 L234.1 947.7 L231.8 940.7 L212.2 934.2 Z" style="stroke-width:1.2"/>
<path class="o" d="M207.9 936.6 L227.7 950 L227.7 965.7 M227.7 950 L234.1 947.7" style="stroke-width:1.1"/>
<path class="w" d="M205.5 925.8 L214 921.4 Q217.5 923 218.1 926.7 L218.7 929 L231.5 940.7 L230 945 L224.5 945.3 L211.7 932.5 Q210 928 205.5 925.8 Z" style="stroke-width:1.3"/>
<path class="o" d="M211.7 932.5 Q214 929.5 218.7 929" style="stroke-width:1"/>
<path d="M224 944 L229 943 L230.5 948.5 L226.5 951 L224.5 949.5 Z" fill="#444" stroke="#222" stroke-width="1"/>
<ellipse class="t" cx="213.1" cy="947.7" rx="1.2" ry="1.5"/>
<ellipse class="t" cx="222.7" cy="953.5" rx="1.2" ry="1.5"/>
</g>

<g id="comb">
<path class="w" d="M555.1 877.9 L622.3 839.8 L629.9 845.4 L629.9 848.9 L636.1 847.5 L642.3 851.6 L642.3 862.7 L640.5 862.5 L636.5 870.5 L632 869.5 L629 866 L624.5 877.5 L620 876.5 L616.5 873 L612 884.8 L607.5 883.5 L604 880 L600 891.8 L595.5 890.5 L592.4 887 L588 898.5 L583 897.5 L579 891 L573.8 895 L573.8 902.9 L571 905 L558.5 898.7 L558.5 884 Z" style="stroke-width:1.2"/>
<path class="o" d="M555.1 877.9 L622.3 839.8" style="stroke-width:1.8"/>
<path class="o" d="M555.1 877.9 L571 886.5 L574.4 886.1 M571 886.5 L571 905 M573.8 886.5 L573.8 895 M636.1 847.5 L636.1 858.5 L642.3 855.5" style="stroke-width:1.1"/>
<path class="t" d="M559 879 L622 843.5 M562 880.5 L629 848.5 M572.2 881.7 L642 853.3" style="stroke:#333;stroke-width:0.9"/>
<path d="M578 883.5 L640 855 L640.5 857.5 L578.5 886 Z" fill="#444" stroke="#222" stroke-width="0.6"/>
<path class="o" d="M574.4 886.1 L641 859.8" style="stroke-width:1.1"/>
<path d="M568 879.5 L627 851 L627.3 852.6 L568.5 881 Z" fill="#555" stroke="#333" stroke-width="0.5"/>
<path class="t" d="M579 891 L583 889 M592.4 887 L596 885.5 M604 880 L607.5 878.5 M616.5 873 L620 871.5 M629 866 L632.5 864.5" style="stroke:#333"/>
<path class="t" d="M598 862 L604 869 M566 874 L566 880" style="stroke:#555"/>
<path class="t" d="M622.3 839.8 L622.3 846 M629.9 848.9 L629.9 851" style="stroke:#444"/>
</g>

<g id="ctrl">
<!-- silhouette -->
<path d="M308.4 936 L324.5 929.9 L333.5 930.1 L369.6 911.5 L393 897.5 L395.3 892.8 L407 889.3 L428 890.5 L453.6 896.3 L475.4 905.1 L478.7 910.6 L485.3 923.7 L490 950 L486.2 951.8 L521.7 967.6 L525.6 976.7 L525.6 992.5 L530.8 993.8 L540 997.7 L542.7 1001.7 L542 1008.2 L515.1 1011.5 L452 1046 L442.3 1049.5 L433 1045.6 L430.6 1040 L309.3 990.8 L307.5 987.3 Z" fill="#fff" stroke="#2a2a2a" stroke-width="1.1" stroke-linejoin="round"/>
<!-- left frame -->
<path class="t" d="M313.1 940 L313.1 986 L321 989.5 M313.1 940 L324.5 935 M308.4 936 L308.4 987" style="stroke:#333;stroke-width:0.9"/>
<path d="M314 986 L319 980 L320 988 Z" fill="#777"/>
<!-- lower-left body -->
<path class="o" d="M323.6 947.3 L389.8 969.8 L409.6 962.8 M323.6 947.3 L323.6 987.5 M389.8 969.8 L389.8 1002.5" style="stroke-width:1"/>
<path class="t" d="M309.3 988.5 L432 1038.6 M325 947 L336 939.5" style="stroke:#444"/>
<!-- upper housing -->
<path class="o" d="M333.5 930.1 L336.7 934.2 L388.7 949.7 L388.7 967.2 M388.7 949.7 L413.2 942.7 L472.7 937.5" style="stroke-width:1"/>
<path class="t" d="M336 937 L387 952.5 M333.5 930.1 L333.5 942 M341 932 L345 935 M346 943 L352 945 L352 951 L346 949 Z" style="stroke:#444"/>
<path class="o" d="M413.2 942.7 L411.5 960.2 L472.7 937.5 M478.7 910.6 L485.3 935 M472.7 937.5 L474.5 970.7 M411.5 960.2 L413.2 993.5 L474.5 970.7" style="stroke-width:1"/>
<path class="t" d="M416.5 980 L470 960 M449.2 921 L449.2 935 M457.3 918 L457.3 932 M449.2 921 L453 919 L457.3 918" style="stroke:#444"/>
<!-- keypad oval -->
<ellipse cx="410" cy="919.4" rx="52" ry="18" transform="rotate(-18 410 919.4)" fill="#fff" stroke="#2a2a2a" stroke-width="1.1"/>
<ellipse cx="411" cy="917.5" rx="49" ry="15" transform="rotate(-18 411 917.5)" fill="none" stroke="#666" stroke-width="0.7"/>
<ellipse cx="389.8" cy="926.6" rx="21" ry="9.5" transform="rotate(-12 389.8 926.6)" fill="#fff" stroke="#222" stroke-width="1.2"/>
<g fill="#1e1e1e">
<ellipse cx="373.7" cy="927.4" rx="3" ry="1.9" transform="rotate(43 373.7 927.4)"/>
<ellipse cx="378.1" cy="922.3" rx="3" ry="1.9" transform="rotate(-35 378.1 922.3)"/>
<ellipse cx="389.8" cy="920.8" rx="3" ry="1.9" transform="rotate(-22 389.8 920.8)"/>
<ellipse cx="400" cy="922.3" rx="3" ry="1.9" transform="rotate(-11 400 922.3)"/>
<ellipse cx="404.3" cy="926.2" rx="3" ry="1.9" transform="rotate(-1 404.3 926.2)"/>
<ellipse cx="400" cy="930.3" rx="3" ry="1.9" transform="rotate(10 400 930.3)"/>
<ellipse cx="389.8" cy="931.7" rx="3" ry="1.9" transform="rotate(22 389.8 931.7)"/>
<ellipse cx="379.6" cy="931" rx="3" ry="1.9" transform="rotate(34 379.6 931)"/>
</g>
<g fill="#fff" stroke="#222" stroke-width="1.1">
<ellipse cx="423.3" cy="904.5" rx="5" ry="3.4"/>
<ellipse cx="436.1" cy="909.2" rx="5" ry="3.4"/>
<ellipse cx="443.1" cy="901" rx="5" ry="3.4"/>
</g>
<path d="M420 905.5 L426 903.5 M433 910 L439 908 M440 902 L446 900" stroke="#555" stroke-width="1.3"/>
<path class="t" d="M338 933 L366 917.5 M367.9 912.8 L388.3 904 L390 906.5 L369.5 915.5 Z M395.3 892.8 L409.4 889.5 L411 892 L397 895.5 Z" style="stroke:#444"/>
<!-- row of bumps and squares -->
<g fill="#555" stroke="#222" stroke-width="0.8">
<ellipse cx="417" cy="960" rx="2.6" ry="1.8"/><ellipse cx="426" cy="956.5" rx="2.6" ry="1.8"/><ellipse cx="435" cy="953" rx="2.6" ry="1.8"/><ellipse cx="444" cy="949.5" rx="2.6" ry="1.8"/><ellipse cx="453" cy="946" rx="2.6" ry="1.8"/><ellipse cx="461" cy="942" rx="2.6" ry="1.8"/>
</g>
<g fill="none" stroke="#333" stroke-width="0.9">
<path d="M419 973 L419 967 L423 965.5 L423 971.5 M426 970 L426 964 L430 962.5 L430 968.5 M433 967.5 L433 961.5 L437 960 L437 966 M440 964.5 L440 958.5 L444 957 L444 963 M447 962 L447 956 L451 954.5 L451 960.5 M454 959 L454 953 L458 951.5 L458 957.5 M461 956.5 L461 950.5 L465 949 L465 955"/>
</g>
<!-- rails -->
<path class="t" d="M390.5 1002.2 L478 970.7 M395 1006 L480 975 M400 1009 L482 979 M404 1012 L484 983" style="stroke:#444;stroke-width:0.8"/>
<!-- connector top right -->
<path d="M478 956 L486.2 951.8 L520 966.5 Q522.5 968 521.7 969.5 L512 973 L478 958 Z" fill="#fff" stroke="#222" stroke-width="1.1"/>
<path d="M483 956 L487 953.8 L517 967 L511.5 970 Z" fill="none" stroke="#111" stroke-width="1.5"/>
<path class="o" d="M478 958 L478 966.2 L512.5 982 L525.6 976.7 M512.5 982 L513.8 1000.4 L525.6 992.5 M512 973 L512.5 982" style="stroke-width:1"/>
<!-- terminals -->
<path d="M447 988 L478 975 L500 982 L500 996 L469 1009 L448 1003 Z" fill="#fff" stroke="#222" stroke-width="1"/>
<path d="M452.0 986.5 L458.0 989.0 L458.0 998.5 L455.5 999.5 L455.5 990.5 L452.0 989.5 Z" fill="#3a3a3a" stroke="#222" stroke-width="0.5"/>
<path d="M456.2 984.8 L462.2 987.2 L462.2 996.8 L459.7 997.8 L459.7 988.8 L456.2 987.8 Z" fill="#3a3a3a" stroke="#222" stroke-width="0.5"/>
<path d="M460.4 983.0 L466.4 985.5 L466.4 995.0 L463.9 996.0 L463.9 987.0 L460.4 986.0 Z" fill="#3a3a3a" stroke="#222" stroke-width="0.5"/>
<path d="M464.6 981.2 L470.6 983.8 L470.6 993.2 L468.1 994.2 L468.1 985.2 L464.6 984.2 Z" fill="#3a3a3a" stroke="#222" stroke-width="0.5"/>
<path d="M468.8 979.5 L474.8 982.0 L474.8 991.5 L472.3 992.5 L472.3 983.5 L468.8 982.5 Z" fill="#3a3a3a" stroke="#222" stroke-width="0.5"/>
<path d="M473.0 977.8 L479.0 980.2 L479.0 989.8 L476.5 990.8 L476.5 981.8 L473.0 980.8 Z" fill="#3a3a3a" stroke="#222" stroke-width="0.5"/>
<path d="M477.2 976.0 L483.2 978.5 L483.2 988.0 L480.7 989.0 L480.7 980.0 L477.2 979.0 Z" fill="#3a3a3a" stroke="#222" stroke-width="0.5"/>
<path d="M481.4 974.2 L487.4 976.8 L487.4 986.2 L484.9 987.2 L484.9 978.2 L481.4 977.2 Z" fill="#3a3a3a" stroke="#222" stroke-width="0.5"/>
<path d="M447.5 991 L456.5 994.5 L457.5 1006 L448.5 1002.5 Z" fill="#fff" stroke="#222" stroke-width="1"/>
<path d="M482 987.5 L492.5 991.5 L493.5 1001 L483 997 Z" fill="#fff" stroke="#222" stroke-width="1"/>
<path d="M493 985 L499 983 L503 988 L503 996 L494 1000 Z" fill="#444" stroke="#222" stroke-width="0.6"/>
<path d="M414 1013 L447 999 L450 1003 L417 1018 Z" fill="#333" stroke="#222" stroke-width="0.6"/>
<path d="M430 1021 L466 1006 L468 1011 L432 1026 Z" fill="#333" stroke="#222" stroke-width="0.6"/>
<path d="M417 1018 L450 1003 L451 1006 L418 1021 Z" fill="#888" stroke="none"/>
<path d="M415.5 1015.8 l1.5 -0.6 M419.1 1014.2 l1.5 -0.6 M422.7 1012.7 l1.5 -0.6 M426.3 1011.1 l1.5 -0.6 M429.9 1009.6 l1.5 -0.6 M433.5 1008.0 l1.5 -0.6 M437.1 1006.5 l1.5 -0.6 M440.7 1004.9 l1.5 -0.6 M444.3 1003.4 l1.5 -0.6 M432.0 1023.5 l1.5 -0.6 M435.6 1022.0 l1.5 -0.6 M439.2 1020.4 l1.5 -0.6 M442.8 1018.9 l1.5 -0.6 M446.4 1017.3 l1.5 -0.6 M450.0 1015.8 l1.5 -0.6 M453.6 1014.2 l1.5 -0.6 M457.2 1012.6 l1.5 -0.6 M460.8 1011.1 l1.5 -0.6 M464.4 1009.5 l1.5 -0.6" stroke="#ddd" stroke-width="1"/>
<path d="M431 1027 L442 1022.5 L443 1031 L432 1035.5 Z" fill="#fff" stroke="#222" stroke-width="0.9"/>
<path d="M464 1013 L474 1009 L475 1017 L465 1021 Z" fill="#fff" stroke="#222" stroke-width="0.9"/>
<path d="M470 1006 L486 999.5 L487 1007 L471 1013.5 Z" fill="#fff" stroke="#222" stroke-width="0.9"/>
<path d="M415 1021 L428 1026 L430 1033 L416 1028 Z" fill="#fff" stroke="#333" stroke-width="0.8"/>
<path d="M503 996 L508 994 L510 999 L505 1001 Z" fill="#fff" stroke="#333" stroke-width="0.8"/>

<!-- base details -->
<path class="t" d="M430.6 1040 L512.5 1008.2 L542 1004 M433 1045.6 L513.8 1011.5 M404 1012 L432 1038 M484 983 L513.8 1000.4" style="stroke:#444"/>
<ellipse cx="532.2" cy="999.7" rx="3.6" ry="2.6" fill="#fff" stroke="#222" stroke-width="1.1"/>
<ellipse cx="444.8" cy="1040.7" rx="3.6" ry="2.6" fill="#fff" stroke="#222" stroke-width="1.1"/>
<circle cx="532.2" cy="999.7" r="1.2" fill="#444"/>
<circle cx="444.8" cy="1040.7" r="1.2" fill="#444"/>
</g>


</g>

<!-- LABELS -->
<g class="lb">
<text x="194.8" y="216.0" textLength="35.1" lengthAdjust="spacingAndGlyphs">#82855</text>
<text x="194.8" y="226.2" textLength="35.1" lengthAdjust="spacingAndGlyphs">#82856</text>
<text x="355.6" y="238.8" textLength="40.4" lengthAdjust="spacingAndGlyphs">#116044</text>
<text x="452.9" y="352.3" textLength="35.2" lengthAdjust="spacingAndGlyphs">#74836</text>
<text x="624.7" y="283.7" textLength="34.4" lengthAdjust="spacingAndGlyphs">#99371</text>
<text x="624.7" y="294.3" textLength="34.7" lengthAdjust="spacingAndGlyphs">#99372</text>
<text x="182.9" y="401.5" textLength="40.8" lengthAdjust="spacingAndGlyphs">#119034</text>
<text x="268.7" y="399.5" textLength="40.8" lengthAdjust="spacingAndGlyphs">#100082</text>
<text x="459.9" y="479.4" textLength="34.6" lengthAdjust="spacingAndGlyphs">#96841</text>
<text x="155.6" y="600.3" textLength="40.7" lengthAdjust="spacingAndGlyphs">#119035</text>
<text x="381.6" y="650.6" textLength="34.4" lengthAdjust="spacingAndGlyphs">#81934</text>
<text x="329.1" y="836.4" textLength="34.8" lengthAdjust="spacingAndGlyphs">#82857</text>
<text x="612.9" y="799.4" textLength="40.4" lengthAdjust="spacingAndGlyphs">#121283</text>
<text x="271.3" y="884.4" textLength="40.0" lengthAdjust="spacingAndGlyphs">#101521</text>
<text x="522.2" y="938.5" textLength="34.1" lengthAdjust="spacingAndGlyphs">#81931</text>
</g>

<!-- LEADERS -->
<g class="ld">
<line x1="206.2" y1="247.1" x2="154.9" y2="294.7"/>
<line x1="376.7" y1="246.9" x2="325.5" y2="295.2"/>
<line x1="527.9" y1="291.9" x2="476.7" y2="338.4"/>
<line x1="205.6" y1="405.8" x2="117.3" y2="487.4"/>
<line x1="295.6" y1="404.8" x2="344" y2="449.9"/>
<line x1="527.8" y1="422.1" x2="477" y2="468.4"/>
<line x1="223.1" y1="545.2" x2="176.7" y2="589.2"/>
<line x1="405.9" y1="654.3" x2="456.5" y2="700.8"/>
<line x1="286.9" y1="777.4" x2="337.4" y2="825"/>
<line x1="280" y1="888.9" x2="225.3" y2="939.2"/>
<line x1="538.3" y1="946.3" x2="521" y2="970.5"/>
</g>
<g class="lk">
<line x1="630" y1="302" x2="602" y2="341.4"/>
<line x1="623.6" y1="803.3" x2="595.2" y2="843"/>
</g>

<!-- DASHED BOXES -->
<path class="dh" d="M470.5 183.5 L584.5 183.5 M470.5 311.5 L584.5 311.5"/><path class="dv" d="M470.5 183.5 L470.5 311.5 M584.5 183.5 L584.5 311.5"/>
<path class="dh" d="M482.5 384 L568.5 384 M482.5 434.5 L568.5 434.5"/><path class="dv" d="M482.5 384 L482.5 434.5 M568.5 384 L568.5 434.5"/>
<path class="dh" d="M308.5 433.5 L399 433.5 M308.5 593.5 L399 593.5"/><path class="dv" d="M308.5 433.5 L308.5 593.5 M399 433.5 L399 593.5"/>
<path class="dh" d="M24 636 L291.2 636 M24 797.7 L291.2 797.7"/><path class="dv" d="M24 636 L24 797.7 M291.2 636 L291.2 797.7"/>

<!-- small marks -->
<rect x="15" y="996" width="1" height="6" fill="#888"/>
<rect x="632" y="996" width="1" height="6" fill="#444"/>
<rect x="0" y="1052" width="686" height="2" fill="#000"/>

</svg>
</body></html>
